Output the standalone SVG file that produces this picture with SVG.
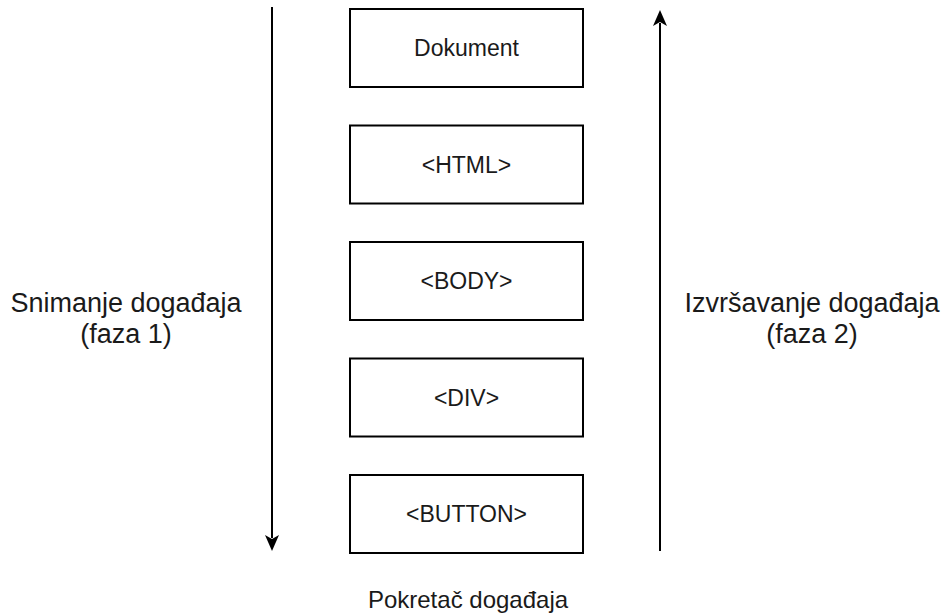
<svg xmlns="http://www.w3.org/2000/svg" width="946" height="616" viewBox="0 0 946 616">
<defs>
<style>
.box{fill:#fff;stroke:#000;stroke-width:2}
.lbl{font-family:"Liberation Sans",Arial,sans-serif;font-size:23px;fill:#1a1a1a;text-anchor:middle}
.side{font-family:"Liberation Sans",Arial,sans-serif;font-size:27px;fill:#1a1a1a;text-anchor:middle}
.conn{stroke:#000;stroke-width:2;fill:none}
</style>
</defs>
<rect width="946" height="616" fill="#fff"/>
<g id="connectors">
<line class="conn" x1="272" y1="7" x2="272" y2="538"/>
<polygon points="272,551 265,535 272,539 279,535" fill="#000"/>
<line class="conn" x1="660" y1="551" x2="660" y2="23"/>
<polygon points="660,10 667,26 660,22 653,26" fill="#000"/>
</g>
<g id="dokument"><rect class="box" x="350" y="9" width="233" height="78"/><text class="lbl" x="466.5" y="56">Dokument</text></g>
<g id="html"><rect class="box" x="350" y="125.5" width="233" height="78"/><text class="lbl" x="466.5" y="172.5">&lt;HTML&gt;</text></g>
<g id="body"><rect class="box" x="350" y="242" width="233" height="78"/><text class="lbl" x="466.5" y="289">&lt;BODY&gt;</text></g>
<g id="div"><rect class="box" x="350" y="358.5" width="233" height="78"/><text class="lbl" x="466.5" y="405.5">&lt;DIV&gt;</text></g>
<g id="button"><rect class="box" x="350" y="475" width="233" height="78"/><text class="lbl" x="466.5" y="522">&lt;BUTTON&gt;</text></g>
<g id="capture-label"><text class="side" x="126" y="312">Snimanje događaja</text><text class="side" x="126" y="343">(faza 1)</text></g>
<g id="bubble-label"><text class="side" x="812" y="312">Izvršavanje događaja</text><text class="side" x="812" y="343">(faza 2)</text></g>
<g id="trigger-label"><text class="lbl" x="468" y="608" style="font-size:24px">Pokretač događaja</text></g>
</svg>
